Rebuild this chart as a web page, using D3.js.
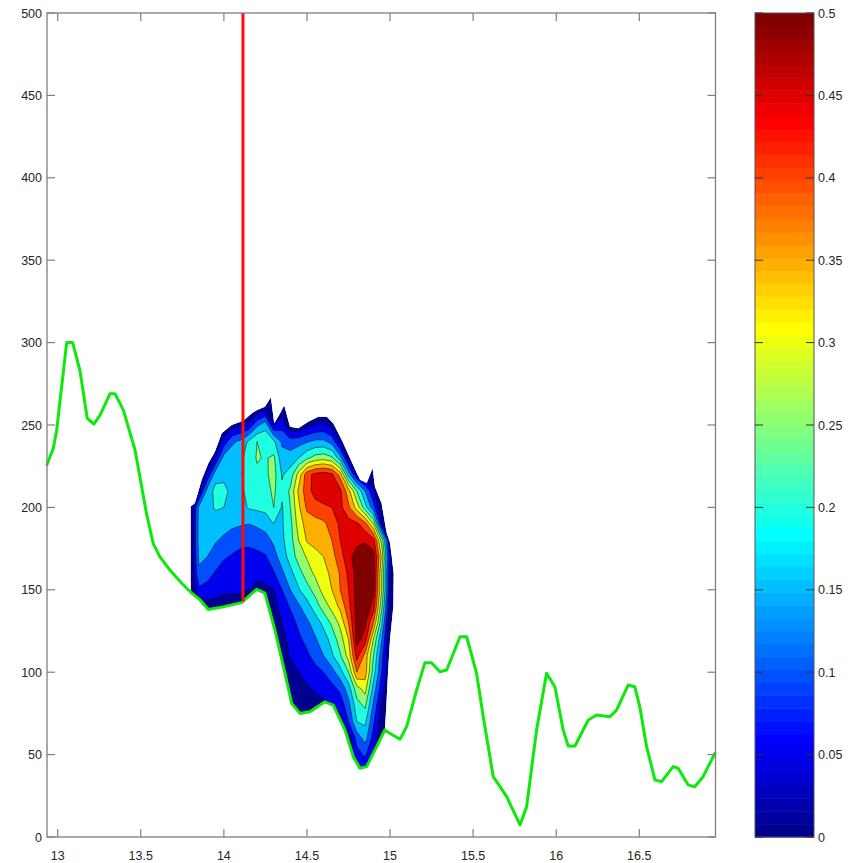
<!DOCTYPE html>
<html>
<head>
<meta charset="utf-8">
<script src="https://cdn.jsdelivr.net/npm/d3@7"></script>
<style>
  html, body { margin: 0; padding: 0; background: #fff; }
  svg { display: block; font-family: "Liberation Sans", Arial, Helvetica, sans-serif; }
</style>
</head>
<body>
<svg id="chart" width="853" height="863"></svg>
<script>
// ---- axis ticks -------------------------------------------------------
const xTicks = [13, 13.5, 14, 14.5, 15, 15.5, 16, 16.5];
const yTicks = [0, 50, 100, 150, 200, 250, 300, 350, 400, 450, 500];
const colorTicks = [0, 0.05, 0.1, 0.15, 0.2, 0.25, 0.3, 0.35, 0.4, 0.45, 0.5];
const xDomain = [12.9356, 16.9586];
const yDomain = [0, 500];
const colorDomain = [0, 0.5];

// ---- filled contour levels -------------------------------------------
const levels = [0.05, 0.1, 0.15, 0.2, 0.25, 0.3, 0.35, 0.4, 0.45, 0.5];

// ---- bottom profile (green curve) ------------------------------------
const profileX = [12.936, 12.974, 12.994, 13.054, 13.090, 13.134, 13.178, 13.218, 13.255, 13.315,
  13.345, 13.395, 13.465, 13.535, 13.575, 13.615, 13.675, 13.746, 13.806, 13.856,
  13.906, 13.987, 14.107, 14.197, 14.247, 14.307, 14.368, 14.408, 14.458, 14.518,
  14.608, 14.658, 14.729, 14.779, 14.819, 14.859, 14.919, 14.969, 14.980, 15.060,
  15.100, 15.160, 15.210, 15.250, 15.300, 15.341, 15.421, 15.461, 15.521, 15.561,
  15.621, 15.702, 15.782, 15.822, 15.882, 15.942, 15.992, 16.042, 16.072, 16.113,
  16.193, 16.243, 16.323, 16.363, 16.433, 16.473, 16.503, 16.544, 16.594, 16.634,
  16.704, 16.734, 16.794, 16.834, 16.884, 16.955];
const profileV = [226, 236, 247, 300, 300, 283, 254, 250.6, 256, 269,
  269, 259, 235, 196, 178, 170, 162, 154, 148, 144,
  138, 139.5, 142.2, 150.3, 148, 125.6, 99.3, 81, 75, 76,
  82, 80, 65, 48.7, 41.7, 42.7, 54.8, 65, 64, 59.3,
  67, 89.2, 105.8, 105.8, 100.3, 101.3, 121.5, 121.5, 99.3, 73,
  36.6, 24.5, 7.3, 18.4, 65, 99.3, 91.2, 65, 55.2, 55.2,
  71, 74, 73, 77, 92.2, 91.2, 79, 54.8, 34.6, 33.6,
  42.7, 41.7, 31.6, 30.5, 36.6, 50.8];

// ---- vertical marker (red line) ---------------------------------------
const markerX = 14.115;

// ---- outline of the sampled region: left edge, top and right edges ----
const outlineX = [13.800, 13.826, 13.866, 13.906, 13.946, 13.987, 14.047, 14.117, 14.167, 14.197,
  14.247, 14.283, 14.303, 14.338, 14.363, 14.398, 14.448, 14.508, 14.568, 14.619,
  14.658, 14.709, 14.769, 14.819, 14.859, 14.895, 14.909, 14.949, 14.980, 15.000,
  15.022, 15.020, 15.000, 14.988, 14.978, 14.969];
const outlineV = [200.5, 202.5, 216.6, 226.7, 233.8, 245, 250, 252.6, 257, 259,
  261, 266.8, 251, 257, 262, 249, 248, 252, 255, 255,
  251, 241, 227.7, 216.6, 214.6, 223.7, 212.6, 202.5, 184.3, 178,
  160, 140, 120, 100, 80, 65];

// ---- gridded field, in hundredths --------------------------------------
// columns: x = 13.80 ... 15.05 (step 0.05); rows: v = 280 ... 30 (step -10)
const gridX0 = 13.80, gridDx = 0.05, gridV0 = 280, gridDv = -10;
const densityUnit = 0.01;
const density = [
  [0,0,0,0,0,0,0,0,0,0,0,0,0,0,0,0,0,0,0,0,0,0,0,0,0,0],
  [0,0,0,0,0,0,0,0,0,0,0,0,0,0,0,0,0,0,0,0,0,0,0,0,0,0],
  [0,0,0,0,0,0,0,0,0,3,0,2,0,0,0,0,0,0,0,0,0,0,0,0,0,0],
  [0,0,0,0,0,2,4,6,14,18,5,8,0,0,3,5,6,3,0,0,0,0,0,0,0,0],
  [0,0,0,0,7,14,16,21,25,24,21,14,12,13,14.5,16,16,13,4,0,0,0,0,0,0,0],
  [0,0,0,5.5,17,18,19,22,25.5,24.5,26,17,17.5,20,24,27,28,26,17,3.5,0,0,0,0,0,0],
  [0,0,6,18,19,18.5,19.5,22,24,24,27,19.5,22,32,43,46.5,47.5,46,38,18,4,0,0,0,0,0],
  [0,3,17,21.5,21,19,19,21.5,22.5,23,26,21,26,36,43,47,48.5,48,46,37,25,15,5.5,0,0,0],
  [0,16,18.5,20.5,20,18,18,20.5,21,21.5,25,19.5,25,34,41,43,44,45,46.5,41,33,22,12,1,0,0],
  [0,17,18,18,17,16,15.5,15,16,17,20,19.5,23.3,32.5,37,38,39,42,46,47,46,42,30,5,0,0],
  [0,17,17,15.5,14,12.5,11.5,11,11.5,13,16,19,23,30,35.5,37,38,40,45,47.5,48,49,47,28,4,0],
  [0,16,15,12.5,10.5,9.5,8.5,8.5,9,9.5,13,17.5,22,27,30.5,33,35,38,43,48,53,55,52,34,6,0],
  [0,14,12,9.5,8,7.5,7,7,7,8,9.5,14,18.5,23,27.5,31,33.5,36,40.5,46,52,55,52,30,5,0],
  [0,9,8,7,6,6,6,5,3,3,5,10,15,19.5,23,27,32,35,40,45,52,54,51,30,5,0],
  [0,0,3,3,2,2,2,0,0,1,3,7.5,10.5,14.2,18,22.5,27.3,31.7,36.3,43.3,52,54,48,26,3,0],
  [0,0,0,0,0,0,0,0,0,0,2.5,5,8,11,14,17.3,21.4,26,31.4,40,52,51,40,21,0,0],
  [0,0,0,0,0,0,0,0,0,0,1,3,7,9,11.5,14.5,17.5,22,27.5,35,52,48,30,15,0,0],
  [0,0,0,0,0,0,0,0,0,0,0,2.5,5.5,7,9,12,15,19.2,24.4,32,47,38.3,25,11.7,0,0],
  [0,0,0,0,0,0,0,0,0,0,0,1,3,5,6.5,8,10,13,18,25,40,37.5,22.5,10,0,0],
  [0,0,0,0,0,0,0,0,0,0,0,0,1,3,4.5,5.5,6.5,8.5,11.1,17.5,28,32,18,7,0,0],
  [0,0,0,0,0,0,0,0,0,0,0,0,0,1,2.5,3.5,4,5,7,13.3,23,26,14,4,0,0],
  [0,0,0,0,0,0,0,0,0,0,0,0,0,0,0,0,0,1,2.5,10,20,21,11,2,0,0],
  [0,0,0,0,0,0,0,0,0,0,0,0,0,0,0,0,0,0,0.5,2,12,17,8,1,0,0],
  [0,0,0,0,0,0,0,0,0,0,0,0,0,0,0,0,0,0,0,0.5,8,11,4,0,0,0],
  [0,0,0,0,0,0,0,0,0,0,0,0,0,0,0,0,0,0,0,0,3,4,1,0,0,0],
  [0,0,0,0,0,0,0,0,0,0,0,0,0,0,0,0,0,0,0,0,0,0,0,0,0,0]
];

// ---- layout ------------------------------------------------------------
const plot = { left: 47, right: 715.5, top: 13, bottom: 837 };
const bar = { left: 755, right: 814 };
const tickLen = 8;

const svg = d3.select("#chart");
const x = d3.scaleLinear().domain(xDomain).range([plot.left, plot.right]);
const y = d3.scaleLinear().domain(yDomain).range([plot.bottom, plot.top]);
const cy = d3.scaleLinear().domain(colorDomain).range([plot.bottom, plot.top]);

// 64-entry jet colormap (1-based index)
function jet64(i) {
  const clamp = v => Math.max(0, Math.min(1, v));
  const r = clamp(Math.min((i - 24) / 16, (72 - i) / 16));
  const g = clamp(Math.min((i - 8) / 16, (56 - i) / 16));
  const b = clamp(Math.min((i + 8) / 16, (40 - i) / 16));
  return d3.rgb(r * 255, g * 255, b * 255).formatHex();
}
function levelColor(v) {
  const t = (v - colorDomain[0]) / (colorDomain[1] - colorDomain[0]);
  return jet64(Math.min(64, Math.floor(t * 64 + 1e-9) + 1));
}

// linear lookup along the green profile
function profileAt(xv) {
  for (let i = 1; i < profileX.length; i++) {
    if (xv <= profileX[i]) {
      const f = (xv - profileX[i - 1]) / (profileX[i] - profileX[i - 1]);
      return profileV[i - 1] + f * (profileV[i] - profileV[i - 1]);
    }
  }
  return profileV[profileV.length - 1];
}

// ---- region outline used as the clip for the filled contours ------------
const regionLeft = outlineX[0];
const regionRight = outlineX[outlineX.length - 1];
const regionPts = [[regionLeft, profileAt(regionLeft)]];
outlineX.forEach((xv, i) => regionPts.push([xv, outlineV[i]]));
for (let i = profileX.length - 1; i >= 0; i--) {
  if (profileX[i] > regionLeft && profileX[i] < regionRight) regionPts.push([profileX[i], profileV[i]]);
}
const regionPath = d3.line().x(d => x(d[0])).y(d => y(d[1]))(regionPts) + "Z";

const defs = svg.append("defs");
defs.append("clipPath").attr("id", "region").append("path").attr("d", regionPath);

// ---- filled contours -----------------------------------------------------
const nx = density[0].length, ny = density.length;
const values = density.flat().map(d => d * densityUnit);
const bands = d3.contours().size([nx, ny]).thresholds(levels)(values);
const proj = d3.geoTransform({
  point(cx0, cy0) {
    this.stream.point(x(gridX0 + (cx0 - 0.5) * gridDx), y(gridV0 + (cy0 - 0.5) * gridDv));
  }
});
const geo = d3.geoPath(proj);

const field = svg.append("g").attr("clip-path", "url(#region)");
field.append("path").attr("d", regionPath).attr("fill", levelColor(0));
field.selectAll("path.band").data(bands).join("path")
  .attr("class", "band")
  .attr("d", geo)
  .attr("fill", d => levelColor(d.value))
  .attr("stroke", "#000")
  .attr("stroke-width", 0.6)
  .attr("stroke-opacity", 0.85)
  .attr("stroke-linejoin", "round");

// ---- green profile and red marker ---------------------------------------
svg.append("path")
  .attr("d", d3.line().x(d => x(d[0])).y(d => y(d[1]))(profileX.map((xv, i) => [xv, profileV[i]])))
  .attr("fill", "none").attr("stroke", "#0bea0b").attr("stroke-width", 3)
  .attr("stroke-linejoin", "round").attr("stroke-linecap", "round");

svg.append("line")
  .attr("x1", x(markerX)).attr("x2", x(markerX))
  .attr("y1", y(yDomain[1])).attr("y2", y(profileAt(markerX)))
  .attr("stroke", "#ff0a0a").attr("stroke-width", 3);

// ---- axes box with inward ticks ------------------------------------------
const axisColor = "#7f7f7f";
const textColor = "#262626";
const axes = svg.append("g");
axes.append("rect")
  .attr("x", plot.left).attr("y", plot.top)
  .attr("width", plot.right - plot.left).attr("height", plot.bottom - plot.top)
  .attr("fill", "none").attr("stroke", axisColor).attr("stroke-width", 1.3);

xTicks.forEach(t => {
  const px = x(t);
  axes.append("line").attr("x1", px).attr("x2", px).attr("y1", plot.bottom).attr("y2", plot.bottom - tickLen)
    .attr("stroke", axisColor).attr("stroke-width", 1.2);
  axes.append("line").attr("x1", px).attr("x2", px).attr("y1", plot.top).attr("y2", plot.top + tickLen)
    .attr("stroke", axisColor).attr("stroke-width", 1.2);
  axes.append("text").attr("x", px).attr("y", plot.bottom + 23)
    .attr("text-anchor", "middle").attr("font-size", 12.5).attr("fill", textColor)
    .text(d3.format("~g")(t));
});
yTicks.forEach(t => {
  const py = y(t);
  axes.append("line").attr("x1", plot.left).attr("x2", plot.left + tickLen).attr("y1", py).attr("y2", py)
    .attr("stroke", axisColor).attr("stroke-width", 1.2);
  axes.append("line").attr("x1", plot.right).attr("x2", plot.right - tickLen).attr("y1", py).attr("y2", py)
    .attr("stroke", axisColor).attr("stroke-width", 1.2);
  axes.append("text").attr("x", plot.left - 5).attr("y", py + 4.5)
    .attr("text-anchor", "end").attr("font-size", 12.5).attr("fill", textColor)
    .text(t);
});

// ---- colorbar ---------------------------------------------------------------
const cbar = svg.append("g");
const steps = d3.range(1, 65);
cbar.selectAll("rect.step").data(steps).join("rect")
  .attr("class", "step")
  .attr("x", bar.left)
  .attr("width", bar.right - bar.left)
  .attr("y", i => cy(colorDomain[0] + i / 64 * (colorDomain[1] - colorDomain[0])))
  .attr("height", i => cy(colorDomain[0] + (i - 1) / 64 * (colorDomain[1] - colorDomain[0])) - cy(colorDomain[0] + i / 64 * (colorDomain[1] - colorDomain[0])) + 0.5)
  .attr("fill", i => jet64(i));
cbar.append("rect")
  .attr("x", bar.left).attr("y", plot.top)
  .attr("width", bar.right - bar.left).attr("height", plot.bottom - plot.top)
  .attr("fill", "none").attr("stroke", "#555").attr("stroke-width", 1);
colorTicks.forEach(t => {
  const py = cy(t);
  cbar.append("line").attr("x1", bar.left).attr("x2", bar.left + tickLen).attr("y1", py).attr("y2", py)
    .attr("stroke", "#333").attr("stroke-width", 1);
  cbar.append("line").attr("x1", bar.right).attr("x2", bar.right - tickLen).attr("y1", py).attr("y2", py)
    .attr("stroke", "#333").attr("stroke-width", 1);
  cbar.append("text").attr("x", bar.right + 4).attr("y", py + 4.5)
    .attr("font-size", 12.5).attr("fill", textColor)
    .text(d3.format("~g")(t));
});
</script>
</body>
</html>
